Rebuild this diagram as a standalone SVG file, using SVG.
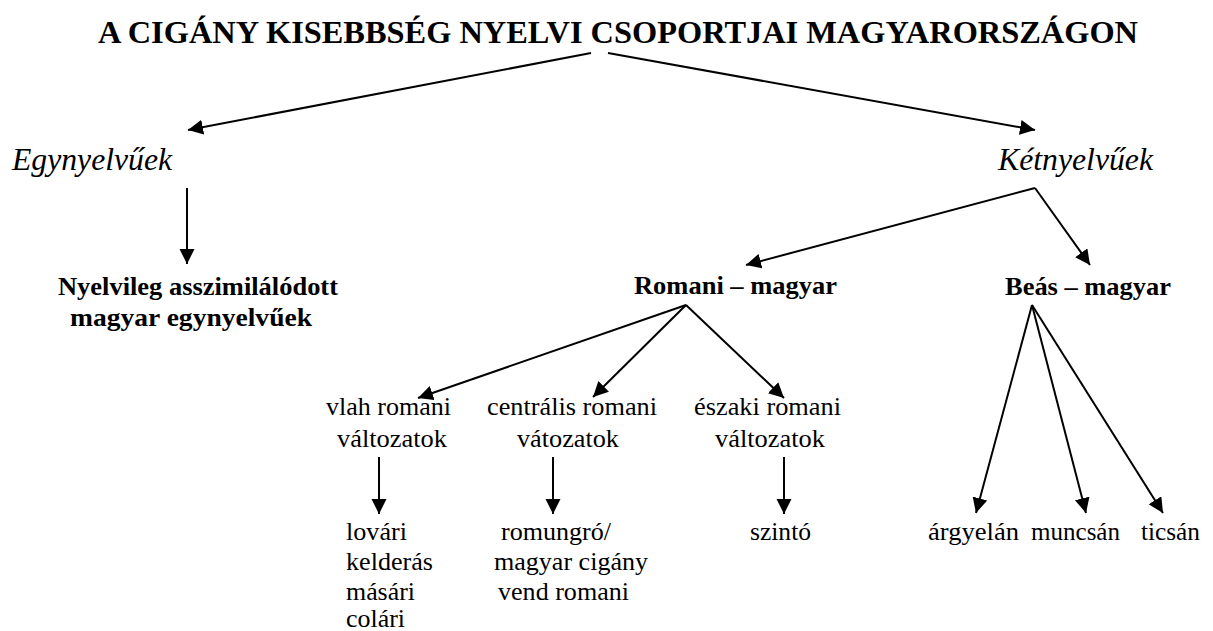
<svg xmlns="http://www.w3.org/2000/svg" width="1213" height="631" viewBox="0 0 1213 631">
<style>
text{font-family:'Liberation Serif','DejaVu Serif','Noto Serif',serif;fill:#000}
.t{font-size:32px;font-weight:bold}
.i{font-size:31px;font-style:italic}
.b{font-size:26px;font-weight:bold}
.r{font-size:26px}
.c line{stroke:#000;stroke-width:2;marker-end:url(#ah)}
</style>
<defs>
<marker id="ah" markerUnits="userSpaceOnUse" markerWidth="16" markerHeight="16" refX="15" refY="7.5" orient="auto" viewBox="0 0 16 16">
<path d="M0,0 L15,7.5 L0,15 z" fill="#000"/>
</marker>
</defs>
<rect width="1213" height="631" fill="#fff"/>
<g id="title"><text class="t" x="98" y="43" textLength="1040" lengthAdjust="spacingAndGlyphs">A CIGÁNY KISEBBSÉG NYELVI CSOPORTJAI MAGYARORSZÁGON</text></g>
<g id="egynyelvuek"><text class="i" x="12" y="170" textLength="160" lengthAdjust="spacingAndGlyphs">Egynyelvűek</text></g>
<g id="ketnyelvuek"><text class="i" x="998" y="170" textLength="155" lengthAdjust="spacingAndGlyphs">Kétnyelvűek</text></g>
<g id="asszimilalodott"><text class="b" x="58" y="295" textLength="280" lengthAdjust="spacingAndGlyphs">Nyelvileg asszimilálódott</text><text class="b" x="70" y="326" textLength="242" lengthAdjust="spacingAndGlyphs">magyar egynyelvűek</text></g>
<g id="romani-magyar"><text class="b" x="634" y="294" textLength="203" lengthAdjust="spacingAndGlyphs">Romani – magyar</text></g>
<g id="beas-magyar"><text class="b" x="1005" y="295" textLength="166" lengthAdjust="spacingAndGlyphs">Beás – magyar</text></g>
<g id="vlah"><text class="r" x="326" y="415" textLength="125" lengthAdjust="spacingAndGlyphs">vlah romani</text><text class="r" x="337" y="447" textLength="110" lengthAdjust="spacingAndGlyphs">változatok</text></g>
<g id="centralis"><text class="r" x="487" y="415" textLength="170" lengthAdjust="spacingAndGlyphs">centrális romani</text><text class="r" x="517" y="447" textLength="102" lengthAdjust="spacingAndGlyphs">vátozatok</text></g>
<g id="eszaki"><text class="r" x="694" y="415" textLength="147" lengthAdjust="spacingAndGlyphs">északi romani</text><text class="r" x="715" y="447" textLength="110" lengthAdjust="spacingAndGlyphs">változatok</text></g>
<g id="vlah-list"><text class="r" x="346" y="540" textLength="61" lengthAdjust="spacingAndGlyphs">lovári</text><text class="r" x="346" y="570" textLength="87" lengthAdjust="spacingAndGlyphs">kelderás</text><text class="r" x="346" y="600" textLength="69" lengthAdjust="spacingAndGlyphs">másári</text><text class="r" x="346" y="627" textLength="59" lengthAdjust="spacingAndGlyphs">colári</text></g>
<g id="centralis-list"><text class="r" x="501" y="540" textLength="110" lengthAdjust="spacingAndGlyphs">romungró/</text><text class="r" x="494" y="570" textLength="154" lengthAdjust="spacingAndGlyphs">magyar cigány</text><text class="r" x="498" y="600" textLength="131" lengthAdjust="spacingAndGlyphs">vend romani</text></g>
<g id="szinto"><text class="r" x="750" y="540" textLength="61" lengthAdjust="spacingAndGlyphs">szintó</text></g>
<g id="argyelan"><text class="r" x="928" y="540" textLength="91" lengthAdjust="spacingAndGlyphs">árgyelán</text></g>
<g id="muncsan"><text class="r" x="1031" y="540" textLength="89" lengthAdjust="spacingAndGlyphs">muncsán</text></g>
<g id="ticsan"><text class="r" x="1141" y="540" textLength="59" lengthAdjust="spacingAndGlyphs">ticsán</text></g>
<g id="connectors" class="c">
<line x1="591" y1="53" x2="188" y2="130"/>
<line x1="608" y1="53" x2="1035" y2="130"/>
<line x1="187" y1="188" x2="187" y2="264"/>
<line x1="1035" y1="188" x2="746" y2="265"/>
<line x1="1035" y1="188" x2="1090" y2="265"/>
<line x1="686" y1="305" x2="418" y2="398"/>
<line x1="686" y1="305" x2="593" y2="397"/>
<line x1="686" y1="305" x2="784" y2="398"/>
<line x1="379" y1="457" x2="379" y2="514"/>
<line x1="553" y1="457" x2="553" y2="514"/>
<line x1="784" y1="457" x2="784" y2="514"/>
<line x1="1032" y1="305" x2="976" y2="513"/>
<line x1="1032" y1="305" x2="1086" y2="513"/>
<line x1="1032" y1="305" x2="1163" y2="513"/>
</g>
</svg>
